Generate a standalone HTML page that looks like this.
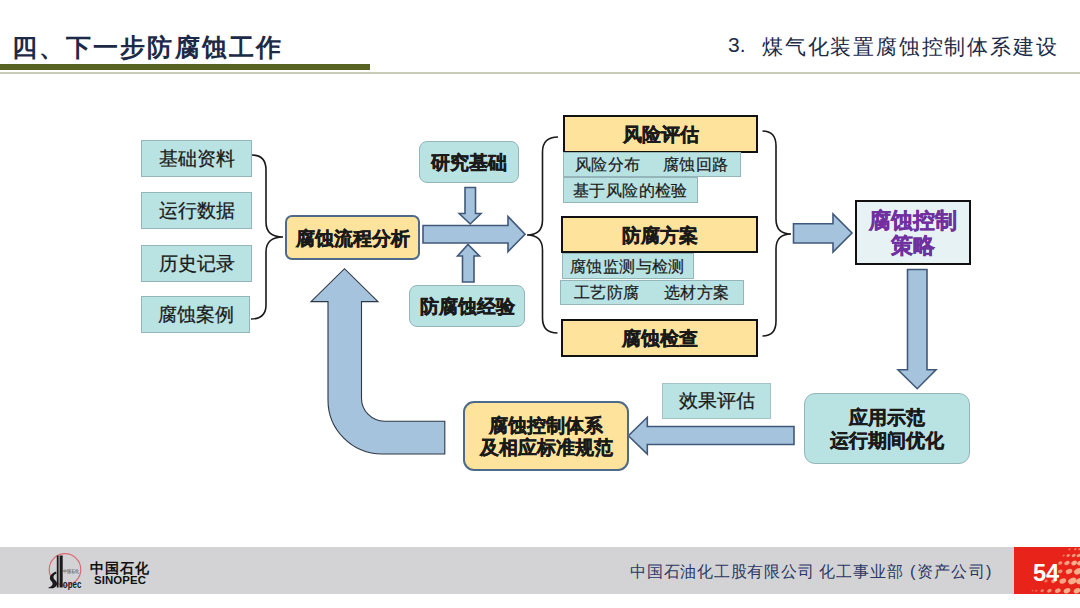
<!DOCTYPE html>
<html><head><meta charset="utf-8">
<style>
html,body{margin:0;padding:0;background:#fff;}
body{width:1080px;height:608px;position:relative;overflow:hidden;font-family:"Liberation Sans",sans-serif;color:#1a1a1a;}
.a{position:absolute;box-sizing:border-box;}
.c{display:flex;align-items:center;justify-content:center;text-align:center;white-space:nowrap;}
.teal{background:#b9e2e2;border:1px solid #94b6ba;}
.yel{background:#fde39c;}
.b19{font-size:19px;font-weight:bold;padding-top:2px;-webkit-text-stroke:0.4px currentColor;}
.r19{font-size:19px;-webkit-text-stroke:0.25px currentColor;}
.r16{font-size:16.4px;letter-spacing:0.4px;-webkit-text-stroke:0.2px currentColor;}
svg{position:absolute;left:0;top:0;}
</style></head><body>

<!-- header -->
<div class="a" style="left:12px;top:31px;font-size:25px;font-weight:bold;letter-spacing:2.1px;color:#1c2a48;white-space:nowrap;">四、下一步防腐蚀工作</div>
<div class="a" style="left:0;top:64px;width:370px;height:6px;background:#566323;"></div>
<div class="a" style="left:0;top:72px;width:1080px;height:2px;background:#c9ccb9;"></div>
<div class="a" style="left:728px;top:33px;font-size:21px;color:#1c2a48;white-space:nowrap;">3.</div>
<div class="a" style="left:762px;top:33px;font-size:21px;letter-spacing:1.8px;color:#1c2a48;white-space:nowrap;">煤气化装置腐蚀控制体系建设</div>

<svg width="1080" height="608" viewBox="0 0 1080 608">
  <g fill="none" stroke="#1a1a1a" stroke-width="1.6">
    <!-- brace 1 -->
    <path d="M252,155 Q266,155 266,170 L266,222 Q266,237 283,237 Q266,237 266,252 L266,305 Q266,319 251,319"/>
    <!-- brace 2 -->
    <path d="M558,137 Q542.5,137 542.5,152 L542.5,220 Q542.5,235 527,235 Q542.5,235 542.5,250 L542.5,318 Q542.5,333 557.5,333"/>
    <!-- brace 3 -->
    <path d="M762.5,131 Q776,131 776,146 L776,219 Q776,234 791,234 Q776,234 776,249 L776,321 Q776,336 762.5,336"/>
  </g>
  <g fill="#a5c3dc" stroke="#40597a" stroke-width="1.6" stroke-linejoin="miter">
    <!-- small down arrow -->
    <path d="M465,187.5 L475.5,187.5 L475.5,213.5 L481,213.5 L470.2,224 L459.2,213.5 L465,213.5 Z"/>
    <!-- small up arrow -->
    <path d="M462.5,282 L474,282 L474,256 L479.5,256 L468,244.5 L457.5,256 L462.5,256 Z"/>
    <!-- big right arrow -->
    <path d="M423,225.5 L508,225.5 L508,216.5 L525,234.2 L508,251.7 L508,243 L423,243 Z"/>
    <!-- right arrow 2 -->
    <path d="M793.5,223.7 L833,223.7 L833,214 L852,233 L833,252 L833,243 L793.5,243 Z"/>
    <!-- big down arrow -->
    <path d="M907.5,269.5 L927,269.5 L927,369.7 L936,369.7 L917.2,388.7 L898,369.7 L907.5,369.7 Z"/>
    <!-- left arrow -->
    <path d="M794,426.5 L647.3,426.5 L647.3,417.3 L628.4,435.8 L647.3,454 L647.3,444.5 L794,444.5 Z"/>
  </g>
  <!-- curved arrow -->
  <path fill="#a5c3dc" stroke="#2f3844" stroke-width="1.1" d="M444.8,421.2 L384.5,421.2 A23,23 0 0 1 361.5,398.2 L361.5,301.6 L378,301.6 L344.5,268.7 L311,301.6 L328,301.6 L328,400 A54,54 0 0 0 382,454 L444.8,454 Z"/>
</svg>

<!-- left boxes -->
<div class="a c teal r19" style="left:141px;top:140px;width:111px;height:37px;">基础资料</div>
<div class="a c teal r19" style="left:141px;top:192px;width:111px;height:37px;">运行数据</div>
<div class="a c teal r19" style="left:141px;top:245px;width:111px;height:37px;">历史记录</div>
<div class="a c teal r19" style="left:141px;top:296px;width:109px;height:37px;">腐蚀案例</div>

<!-- flow analysis -->
<div class="a c yel b19" style="left:285px;top:215px;width:135px;height:45px;border:2px solid #4f6a88;border-radius:7px;">腐蚀流程分析</div>
<div class="a c teal b19" style="left:419px;top:141px;width:100px;height:42px;border-radius:8px;">研究基础</div>
<div class="a c teal b19" style="left:409px;top:285px;width:116px;height:42px;border-radius:8px;">防腐蚀经验</div>

<!-- column -->
<div class="a c yel b19" style="left:563px;top:115px;width:195px;height:38px;border:2px solid #111;">风险评估</div>
<div class="a teal r16" style="left:563px;top:152px;width:178px;height:25px;white-space:nowrap;"><span class="a" style="left:11px;top:1px">风险分布</span><span class="a" style="left:99px;top:1px">腐蚀回路</span></div>
<div class="a teal r16" style="left:563px;top:177px;width:135px;height:26px;white-space:nowrap;"><span class="a" style="left:9px;top:1.5px">基于风险的检验</span></div>

<div class="a c yel b19" style="left:561px;top:216px;width:197px;height:37px;border:2px solid #111;">防腐方案</div>
<div class="a teal r16" style="left:562px;top:253px;width:132px;height:26px;white-space:nowrap;"><span class="a" style="left:7px;top:2px">腐蚀监测与检测</span></div>
<div class="a teal r16" style="left:560px;top:280px;width:184px;height:25px;white-space:nowrap;"><span class="a" style="left:13px;top:1px">工艺防腐</span><span class="a" style="left:103px;top:1px">选材方案</span></div>

<div class="a c yel b19" style="left:561px;top:319px;width:197px;height:38px;border:2px solid #111;">腐蚀检查</div>

<!-- strategy -->
<div class="a c b19" style="left:855px;top:200px;width:116px;height:65px;border:2px solid #111;background:#e6f2f3;color:#7030a0;font-size:21.5px;line-height:25px;white-space:normal;">腐蚀控制<br>策略</div>

<!-- app box -->
<div class="a c teal b19" style="left:804px;top:393px;width:166px;height:71px;border-radius:11px;line-height:22.5px;">应用示范<br>运行期间优化</div>

<div class="a c teal r19" style="left:662px;top:383px;width:109px;height:36px;border-color:#a3c3c6;">效果评估</div>

<div class="a c yel b19" style="left:463px;top:401px;width:166px;height:70px;border:2px solid #4f6a88;border-radius:11px;line-height:22.5px;">腐蚀控制体系<br>及相应标准规范</div>

<!-- footer -->
<div class="a" style="left:0;top:547px;width:1080px;height:47px;background:#d3d3d5;"></div>
<div class="a" style="left:1014px;top:547px;width:66px;height:47px;background:#e8231a;"></div>
<div class="a" style="left:630px;top:561px;font-size:16.3px;letter-spacing:0.75px;color:#2b3763;white-space:nowrap;">中国石油化工股有限公司</div>
<div class="a" style="left:819px;top:561px;font-size:16.3px;letter-spacing:1.1px;color:#2b3763;white-space:nowrap;">化工事业部</div>
<div class="a" style="left:910px;top:561px;font-size:16.3px;letter-spacing:1.3px;color:#2b3763;white-space:nowrap;">(资产公司)</div>
<div class="a" style="left:90px;top:559.5px;font-size:14px;letter-spacing:1px;font-weight:bold;color:#111;white-space:nowrap;">中国石化</div>
<div class="a" style="left:94px;top:574px;font-size:11.4px;letter-spacing:0.1px;font-weight:bold;color:#111;white-space:nowrap;">SINOPEC</div>
<svg width="1080" height="608" viewBox="0 0 1080 608">
  <circle cx="65" cy="569.5" r="15.8" fill="none" stroke="#de6873" stroke-width="1.2"/>
  <rect x="56.8" y="555.5" width="1.8" height="32" fill="#1a1a1a"/>
  <rect x="59.6" y="555.5" width="3.1" height="32" fill="#1a1a1a"/>
  <path d="M56,571.5 C49.5,574 48.5,578.5 51.5,581.5 C53.5,583.5 53,586 48.5,587.5 L48.5,588.3 L53,588.3 C58,586.5 58,582.5 55,580 C52.5,578 53,575 56.5,573.5 Z" fill="#1a1a1a"/>
  <text x="62.8" y="587.6" font-family="Liberation Sans" font-weight="bold" font-size="11.5" fill="#1a1a1a" textLength="18.5" lengthAdjust="spacingAndGlyphs">opec</text>
  <text x="63" y="572.5" font-family="Liberation Sans" font-size="4.5" fill="#333" textLength="16.5" lengthAdjust="spacingAndGlyphs">中国石化</text>
  <g fill="#f9ae8c">
    <ellipse cx="1069.5" cy="549.2" rx="1.2" ry="0.9" opacity="0.6" transform="rotate(-25 1069.5 549.2)"/>
    <ellipse cx="1075.4" cy="549.2" rx="1.4" ry="1" opacity="0.7" transform="rotate(-25 1075.4 549.2)"/>
    <ellipse cx="1079.5" cy="549.2" rx="1.4" ry="1" opacity="0.7" transform="rotate(-25 1079.5 549.2)"/>
    <ellipse cx="1063.6" cy="555.5" rx="1.2" ry="0.9" opacity="0.6" transform="rotate(-25 1063.6 555.5)"/>
    <ellipse cx="1068.2" cy="555.5" rx="1.9" ry="1.3" opacity="0.8" transform="rotate(-25 1068.2 555.5)"/>
    <ellipse cx="1073.7" cy="555.5" rx="2.1" ry="1.5" opacity="0.85" transform="rotate(-25 1073.7 555.5)"/>
    <ellipse cx="1078.7" cy="555.5" rx="2.2" ry="1.5" opacity="0.9" transform="rotate(-25 1078.7 555.5)"/>
    <ellipse cx="1060.3" cy="563" rx="2.2" ry="1.6" opacity="0.8" transform="rotate(-25 1060.3 563)"/>
    <ellipse cx="1067" cy="563" rx="2.8" ry="2" opacity="0.9" transform="rotate(-25 1067 563)"/>
    <ellipse cx="1074.1" cy="563" rx="3" ry="2.1" opacity="1" transform="rotate(-25 1074.1 563)"/>
    <ellipse cx="1080" cy="563" rx="3" ry="2.1" opacity="1" transform="rotate(-25 1080 563)"/>
    <ellipse cx="1060.3" cy="571.4" rx="2.3" ry="1.7" opacity="0.8" transform="rotate(-25 1060.3 571.4)"/>
    <ellipse cx="1069" cy="571.4" rx="3.4" ry="2.4" opacity="0.95" transform="rotate(-25 1069 571.4)"/>
    <ellipse cx="1077.9" cy="571.4" rx="4" ry="2.9" opacity="1" transform="rotate(-25 1077.9 571.4)"/>
    <ellipse cx="1046" cy="581" rx="1.8" ry="1.3" opacity="0.6" transform="rotate(-25 1046 581)"/>
    <ellipse cx="1053.6" cy="581" rx="2.6" ry="1.9" opacity="0.8" transform="rotate(-25 1053.6 581)"/>
    <ellipse cx="1062.8" cy="581" rx="3.5" ry="2.5" opacity="0.95" transform="rotate(-25 1062.8 581)"/>
    <ellipse cx="1072.4" cy="581" rx="4.4" ry="3" opacity="1" transform="rotate(-25 1072.4 581)"/>
    <ellipse cx="1080" cy="581" rx="4" ry="3" opacity="1" transform="rotate(-25 1080 581)"/>
    <ellipse cx="1032.6" cy="590.7" rx="1" ry="0.8" opacity="0.5" transform="rotate(-25 1032.6 590.7)"/>
    <ellipse cx="1036.3" cy="590.7" rx="1.2" ry="0.9" opacity="0.55" transform="rotate(-25 1036.3 590.7)"/>
    <ellipse cx="1042.2" cy="590.7" rx="1.8" ry="1.3" opacity="0.7" transform="rotate(-25 1042.2 590.7)"/>
    <ellipse cx="1049.4" cy="590.7" rx="2.4" ry="1.7" opacity="0.8" transform="rotate(-25 1049.4 590.7)"/>
    <ellipse cx="1057.8" cy="590.7" rx="3" ry="2.1" opacity="0.9" transform="rotate(-25 1057.8 590.7)"/>
    <ellipse cx="1067" cy="590.7" rx="3.5" ry="2.4" opacity="1" transform="rotate(-25 1067 590.7)"/>
    <ellipse cx="1077" cy="590.7" rx="3.5" ry="2.4" opacity="1" transform="rotate(-25 1077 590.7)"/>
  </g>
</svg>
<div class="a" style="left:1033px;top:559.5px;font-size:23.6px;font-weight:bold;color:#fff;">54</div>
</body></html>
